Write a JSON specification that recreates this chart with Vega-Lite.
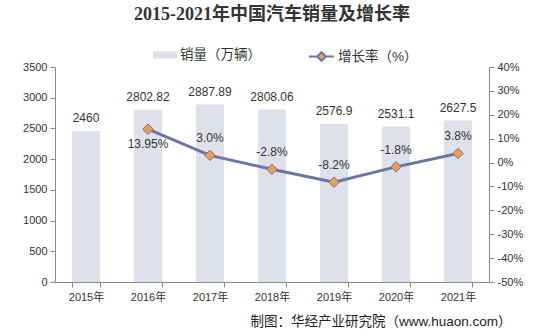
{
  "$schema": "https://vega.github.io/schema/vega-lite/v6.json",
  "width": 434,
  "height": 215,
  "autosize": {"type": "none"},
  "padding": {"left": 55, "top": 67, "right": 44, "bottom": 53},
  "background": "white",
  "config": {"view": {"stroke": null}, "font": "Liberation Sans, Noto Sans CJK SC"},
  "title": {
    "text": "2015-2021年中国汽车销量及增长率",
    "font": "Liberation Serif, Noto Sans CJK SC",
    "fontSize": 18,
    "fontWeight": "bold",
    "color": "#333333",
    "anchor": "middle",
    "frame": "group",
    "offset": 19
  },
  "data": {
    "values": [
      {"year": "2015年", "sales": 2460, "growth": null, "growth_label": ""},
      {"year": "2016年", "sales": 2802.82, "growth": 13.95, "growth_label": "13.95%"},
      {"year": "2017年", "sales": 2887.89, "growth": 3.0, "growth_label": "3.0%"},
      {"year": "2018年", "sales": 2808.06, "growth": -2.8, "growth_label": "-2.8%"},
      {"year": "2019年", "sales": 2576.9, "growth": -8.2, "growth_label": "-8.2%"},
      {"year": "2020年", "sales": 2531.1, "growth": -1.8, "growth_label": "-1.8%"},
      {"year": "2021年", "sales": 2627.5, "growth": 3.8, "growth_label": "3.8%"}
    ]
  },
  "encoding": {
    "x": {
      "field": "year",
      "type": "ordinal",
      "sort": null,
      "scale": {"paddingInner": 0.55, "paddingOuter": 0.275},
      "axis": {
        "title": "制图：华经产业研究院（www.huaon.com）",
        "titleFont": "Liberation Sans, Noto Sans CJK SC",
        "titleFontSize": 13.5,
        "titleFontWeight": "normal",
        "titleColor": "#222222",
        "titleX": 456,
        "titleY": 39,
        "titleAlign": "right",
        "titleBaseline": "middle",
        "titleAnchor": null,
        "labelAngle": 0,
        "labelFontSize": 11,
        "labelColor": "#333333",
        "labelPadding": 4,
        "labelOverlap": false,
        "domainColor": "#888888",
        "tickColor": "#888888",
        "tickBand": "extent",
        "tickSize": 5,
        "grid": false
      }
    }
  },
  "layer": [
    {
      "encoding": {
        "y": {
          "field": "sales",
          "type": "quantitative",
          "scale": {"domain": [0, 3500], "nice": false},
          "axis": {
            "title": null,
            "values": [0, 500, 1000, 1500, 2000, 2500, 3000, 3500],
            "tickCount": 8,
            "format": "d",
            "labelOverlap": false,
            "grid": false,
            "labelFontSize": 11,
            "labelColor": "#333333",
            "labelPadding": 3,
            "tickSize": 5,
            "domainColor": "#888888",
            "tickColor": "#888888"
          }
        }
      },
      "layer": [
        {
          "mark": {"type": "bar"},
          "encoding": {
            "fill": {
              "datum": "销量（万辆）",
              "scale": {"range": ["#dee1ea"]},
              "legend": {
                "title": null,
                "orient": "none",
                "legendX": 98,
                "legendY": -24,
                "padding": 0,
                "symbolType": "M-1,-0.3H1V0.3H-1Z",
                "symbolSize": 576,
                "symbolStrokeWidth": 0,
                "labelFontSize": 13.5,
                "labelColor": "#333333",
                "labelOffset": 3
              }
            }
          }
        },
        {
          "mark": {"type": "text", "dy": -13, "fontSize": 12, "color": "#333333"},
          "encoding": {
            "text": {"field": "sales", "type": "nominal"}
          }
        }
      ]
    },
    {
      "transform": [{"filter": "datum.growth != null"}],
      "encoding": {
        "y": {
          "field": "growth",
          "type": "quantitative",
          "scale": {"domain": [-50, 40], "nice": false},
          "axis": {
            "orient": "right",
            "title": null,
            "values": [-50, -40, -30, -20, -10, 0, 10, 20, 30, 40],
            "tickCount": 10,
            "labelExpr": "datum.value + '%'",
            "labelOverlap": false,
            "grid": false,
            "labelFontSize": 11,
            "labelColor": "#333333",
            "labelPadding": 3,
            "tickSize": 5,
            "domainColor": "#888888",
            "tickColor": "#888888"
          }
        }
      },
      "layer": [
        {
          "mark": {"type": "line", "strokeWidth": 3},
          "encoding": {
            "stroke": {
              "datum": "增长率（%）",
              "scale": {"range": ["#6a76a4"]},
              "legend": {
                "title": null,
                "orient": "none",
                "legendX": 253,
                "legendY": -24,
                "padding": 0,
                "symbolType": "M-1,0H-0.35M0.35,0H1M0,-0.35L0.35,0L0,0.35L-0.35,0Z",
                "symbolSize": 625,
                "symbolStrokeWidth": 2,
                "symbolFillColor": "#f59b4d",
                "labelFontSize": 13.5,
                "labelColor": "#333333",
                "labelOffset": 3
              }
            }
          }
        },
        {
          "mark": {
            "type": "point",
            "shape": "diamond",
            "filled": true,
            "fill": "#f59b4d",
            "stroke": "#6a76a4",
            "strokeWidth": 1,
            "size": 110,
            "opacity": 1
          }
        },
        {
          "transform": [{"filter": "datum.growth > 10"}],
          "mark": {"type": "text", "dy": 15, "fontSize": 12, "color": "#333333"},
          "encoding": {
            "text": {"field": "growth_label", "type": "nominal"}
          }
        },
        {
          "transform": [{"filter": "datum.growth <= 10"}],
          "mark": {"type": "text", "dy": -17, "fontSize": 12, "color": "#333333"},
          "encoding": {
            "text": {"field": "growth_label", "type": "nominal"}
          }
        }
      ]
    }
  ],
  "resolve": {"scale": {"y": "independent"}}
}
